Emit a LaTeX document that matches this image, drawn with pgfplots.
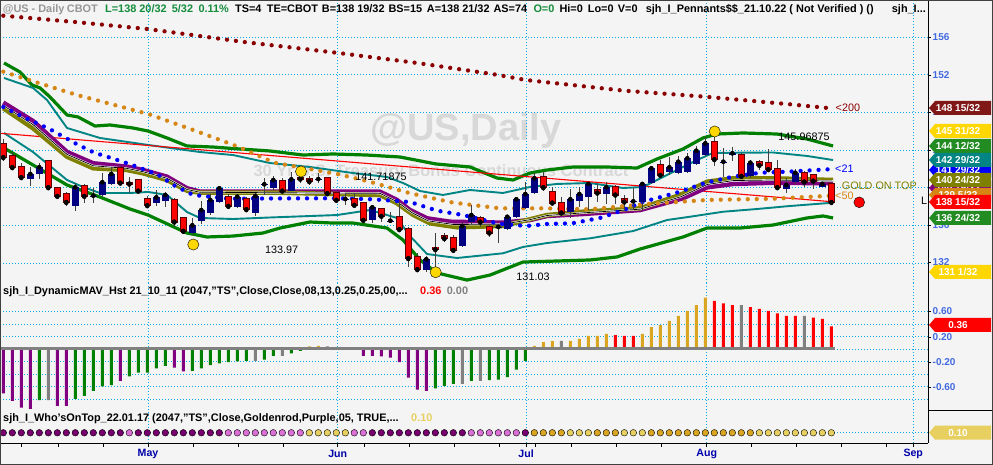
\documentclass[border=0pt]{standalone}
\usepackage{pgfplots}
\pgfplotsset{compat=1.18}
\usepackage{pgfplotstable}
\usepackage{fontspec}
\setmainfont{Liberation Sans}

\definecolor{bg}{RGB}{244,244,244}
\definecolor{gridc}{RGB}{0,170,235}
\definecolor{upc}{RGB}{0,0,128}
\definecolor{dnc}{RGB}{255,0,0}
\definecolor{dnedge}{RGB}{90,0,0}
\definecolor{ma200}{RGB}{139,0,0}
\definecolor{ma50}{RGB}{214,134,20}
\definecolor{ma21}{RGB}{0,0,255}
\definecolor{bandg}{RGB}{0,128,0}
\definecolor{bandt}{RGB}{0,132,132}
\definecolor{mavp}{RGB}{128,0,128}
\definecolor{mavo}{RGB}{128,128,0}
\definecolor{swing}{RGB}{255,215,0}
\definecolor{hgold}{RGB}{218,165,32}
\definecolor{hgray}{RGB}{128,128,128}
\definecolor{dotlt}{RGB}{232,208,96}
\definecolor{orchid}{RGB}{218,112,214}
\definecolor{dpurp}{RGB}{120,0,110}
\definecolor{axisblue}{RGB}{65,105,225}
\definecolor{monthc}{RGB}{0,0,170}
\definecolor{wm}{RGB}{216,216,216}
\definecolor{hdrgray}{RGB}{150,150,150}
\definecolor{hdrgreen}{RGB}{20,140,60}
\definecolor{tagred}{RGB}{128,24,24}
\definecolor{taggreen}{RGB}{34,139,34}

% candles: x = trading day index, O H L C
\pgfplotstableread{
x O H L C
3 140.96 142.23 140.21 141.46
4 141.43 142.66 140.89 142.17
8 138.09 140.53 137.53 140.04
10 139.10 139.94 138.35 139.16
11 139.20 141.59 139.05 140.58
12 140.40 142.23 140.29 141.46
17 138.35 139.76 138.06 138.98
18 138.62 139.58 137.92 139.23
21 135.16 136.75 134.98 136.01
22 136.50 138.62 136.15 137.63
23 137.35 139.33 137.10 138.70
24 138.52 140.11 138.41 139.94
26 137.99 139.12 137.81 139.05
28 137.35 139.47 137.00 139.12
29 140.30 141.00 139.20 140.36
30 139.94 141.24 139.76 140.82
32 139.68 141.67 139.60 140.89
35 140.87 141.53 140.47 140.92
38 138.74 139.33 138.17 138.80
41 136.57 138.17 136.29 137.92
43 136.44 137.45 136.22 136.50
47 131.26 132.75 131.08 132.40
51 133.81 136.39 133.67 135.93
52 136.39 138.17 136.15 137.10
55 135.79 136.04 134.16 135.84
56 135.59 137.10 135.51 136.92
57 136.86 139.05 136.75 138.77
58 137.81 140.64 137.71 139.33
59 139.41 141.53 139.33 141.00
63 137.45 139.83 136.75 138.77
64 138.62 140.04 137.99 139.33
65 138.98 140.64 137.63 140.40
67 139.33 140.64 138.27 140.04
70 138.50 139.94 137.63 138.55
71 138.52 140.64 137.63 140.40
72 140.53 142.31 140.40 142.06
74 141.70 143.29 141.35 142.17
75 141.59 143.37 141.46 142.76
76 141.70 143.65 141.53 143.12
77 142.52 144.43 142.41 143.93
78 143.47 145.35 143.37 144.71
80 142.59 144.19 141.17 142.76
81 143.47 144.29 142.87 143.65
83 141.24 142.94 141.00 142.66
87 139.83 141.00 139.47 140.29
88 140.64 141.96 140.40 141.59
91 140.11 140.64 140.04 140.40
}\candlesup

\pgfplotstableread{
x O H L C
0 144.64 145.14 142.87 143.23
1 143.37 143.83 141.88 142.17
2 142.17 142.59 140.89 141.11
5 142.80 142.84 139.94 140.04
6 139.97 140.11 138.98 139.12
7 139.33 139.58 138.06 138.48
9 140.18 140.40 138.41 139.12
13 142.06 142.31 140.47 140.53
14 140.50 141.17 139.47 140.43
15 140.82 140.89 139.58 139.68
16 138.83 139.12 137.92 138.13
19 138.70 138.88 135.80 136.39
20 136.75 136.86 135.09 135.41
25 139.05 139.33 137.85 138.06
27 138.77 138.98 137.56 137.71
31 140.71 141.03 139.55 139.68
33 141.03 141.35 140.47 140.95
34 140.89 141.24 140.29 140.68
36 141.00 141.10 139.33 139.41
37 139.41 139.58 138.52 138.70
39 138.77 139.41 137.99 138.17
40 138.35 138.52 136.39 136.57
42 137.71 137.81 136.39 137.00
44 136.92 138.52 135.44 135.59
45 135.59 135.80 131.55 132.51
46 132.68 133.04 131.19 131.34
48 133.67 135.16 131.62 133.46
49 134.91 135.16 134.27 134.63
50 134.63 134.98 133.31 133.39
53 136.75 136.99 135.80 136.39
54 135.80 136.04 134.74 135.23
60 141.17 141.70 139.68 140.04
61 139.58 140.11 138.17 138.41
62 138.41 138.98 137.21 137.35
66 139.76 140.40 138.52 139.47
68 140.04 140.29 138.27 139.26
69 138.77 139.23 137.63 138.52
73 142.41 142.94 141.00 141.35
79 144.88 145.97 142.31 143.02
82 143.47 143.72 141.17 141.24
84 142.76 142.94 141.88 142.41
85 142.66 144.08 141.70 141.96
86 141.96 142.94 139.94 140.04
89 141.53 141.81 140.04 140.64
90 141.35 141.35 139.83 140.74
92 140.40 140.40 138.38 138.47
}\candlesdn

\pgfplotsset{
  panel/.style={scale only axis, width=928pt, anchor=north west,
    xmin=-0.367, xmax=102.74,
    axis line style={draw=none}, major tick length=0pt, minor tick length=0pt,
    xtick={16.08,37.16,58.08,78.16,101.1}, xticklabels={}, yticklabels={},
    xmajorgrids, ymajorgrids,
    grid style={draw=gridc, dash pattern=on 1pt off 2pt, line width=0.8pt}},
  dotma/.style={line cap=round, dash pattern=on 0pt off 9pt, line width=4.3pt},
}
\newcommand{\hdr}{\fontsize{10.9}{12}\selectfont\bfseries}
\newcommand{\tagfont}{\fontsize{10}{12}\selectfont\bfseries}
\newcommand{\ptag}[4]{%
  \fill[#2] (929,465-#1) -- (935,465-#1+7) -- (991,465-#1+7) -- (991,465-#1-7) -- (935,465-#1-7) -- cycle;
  \node[text=#4, font=\tagfont, anchor=center, inner sep=0pt] at (958,465-#1) {#3};}

\begin{document}
\begin{tikzpicture}[x=1pt, y=1pt]
\fill[bg] (0,0) rectangle (993,465);
\useasboundingbox (0,0) rectangle (993,465);

% watermark
\node[text=wm, font=\fontsize{38}{40}\selectfont\bfseries] at (466,334) {@US,Daily};
\node[text=wm, font=\fontsize{16.5}{18}\selectfont\bfseries] at (441,293) {30 Yr U.S. Treasury Bonds Continuous Contract};

% ---------------- price panel
\begin{axis}[panel, at={(0pt,465pt)}, height=283pt,
  ymin=129.886, ymax=159.928, ytick={132,136,140,144,148,152,156}]
% 200 MA
\addplot[ma200, dotma] coordinates {(0,158.26) (8,157.59) (16,156.85) (27,155.44) (37,154.33) (46,153.24) (55,151.97) (58,151.44) (69,150.30) (78,149.66) (87,148.89) (92,148.43)};
% outer bands
\addplot[bandg, line width=3.2pt, line join=round] coordinates {(0.08,153.24) (1.86,152.28) (3.19,150.90) (4.08,150.59) (5.19,149.63) (7.08,147.72) (8.3,147.51) (10.19,146.55) (11.86,146.66) (14.41,146.34) (16.08,146.02) (18.19,145.28) (20.41,144.43) (23.3,144.32) (25.52,144.16) (29.63,143.90) (33.3,143.47) (36.63,143.58) (40.41,143.47) (44.08,143.26) (48.08,142.52) (51.85,142.20) (54.85,141.03) (56.63,140.82) (58.52,141.56) (60.41,141.88) (63.3,142.20) (67.08,142.20) (70.41,142.09) (72.63,143.05) (75.52,144.11) (77.74,145.28) (79.3,145.70) (82.19,145.81) (85.97,145.70) (89.3,145.17) (92.19,144.43)};
\addplot[bandg, line width=3.2pt, line join=round] coordinates {(0.08,144.22) (7.08,140.29) (10.74,139.01) (14.08,137.74) (16.08,137.10) (20.41,135.19) (22.63,134.77) (25.52,134.87) (28.85,135.19) (30.74,135.72) (34.08,136.36) (36.63,136.25) (38.85,136.25) (42.63,135.72) (44.41,134.45) (46.3,132.33) (48.19,130.95) (51.52,130.20) (54.08,130.73) (57.74,132.11) (61.52,132.22) (65.19,132.33) (68.19,132.65) (70.74,133.49) (75.52,134.77) (78.19,135.72) (81.85,135.72) (85.52,136.04) (89.3,136.79) (91.08,137.00) (92.19,136.79)};
% inner bands
\addplot[bandt, line width=1.9pt, line join=round] coordinates {(0.08,151.65) (3.3,150.59) (4.86,149.31) (7.08,146.34) (10.74,145.28) (16.08,144.54) (21.85,143.79) (25.52,143.47) (29.63,142.62) (34.08,142.20) (38.85,141.56) (42.63,141.14) (44.41,140.50) (46.3,139.65) (48.85,139.23) (51.85,139.76) (55.52,139.44) (58.52,140.08) (61.52,140.40) (65.19,140.50) (68.85,139.97) (71.08,140.08) (74.41,141.67) (77.08,142.94) (78.85,143.69) (81.85,143.72) (85.52,143.74) (89.3,143.37) (92.19,142.94)};
\addplot[bandt, line width=1.9pt, line join=round] coordinates {(0.08,145.81) (3.3,143.79) (7.08,140.82) (8.85,140.08) (10.74,139.44) (14.08,139.44) (16.08,139.55) (18.19,139.23) (20.41,137.42) (21.85,136.79) (25.52,136.68) (29.63,136.84) (37.08,137.10) (40.74,137.63) (43.74,136.79) (45.19,134.87) (47.08,132.96) (50.41,132.54) (55.52,133.04) (57.74,133.71) (60.41,134.13) (65.19,134.63) (69.97,135.40) (73.74,136.57) (76.3,136.92) (79.97,137.45) (83.74,137.74) (87.41,138.06) (92.19,138.41)};
% trend line
\addplot[dnc, line width=1.1pt] coordinates {(-0.37,145.78) (92,138.52)};
% dynamic MAVs
\addplot[mavp, line width=4.5pt, line join=round] coordinates {(0,149.03) (3.3,147.08) (7.08,143.79) (10.0,142.59) (13.74,142.23) (15.52,141.88) (18.19,141.17) (20.41,139.94) (21.85,139.58) (30.74,139.58) (41.85,139.58) (43.74,138.70) (45.19,137.63) (47.08,136.75) (49.63,136.39) (55.52,136.29) (58.52,136.57) (60.41,137.0) (64.41,137.21) (70.74,137.63) (75.52,138.88) (78.19,140.04) (81.11,140.40) (85.52,140.53) (92.19,140.47)};
\addplot[mavo, line width=4.5pt, line join=round] coordinates {(0,148.43) (3.3,146.31) (7.08,143.29) (10.0,142.06) (13.74,141.88) (15.52,141.53) (18.19,140.82) (20.41,139.68) (21.85,139.47) (30.74,139.47) (41.85,139.23) (43.74,138.35) (45.56,137.10) (47.41,136.22) (50.41,135.80) (55.52,135.94) (58.52,136.65) (60.41,137.10) (64.41,137.45) (70.74,137.81) (75.19,139.23) (78.19,140.64) (81.11,141.0) (85.52,141.0) (92.19,140.82)};
\addplot[white, line width=1.8pt, line join=round] coordinates {(0,148.73) (3.3,146.7) (7.08,143.54) (10,142.33) (13.74,142.05) (15.52,141.7) (18.19,141.0) (20.41,139.81) (21.85,139.52) (41.85,139.4) (43.74,138.52) (45.4,137.35) (47.2,136.48) (50,136.1) (55.52,136.12) (58.52,136.61) (60.41,137.05) (64.41,137.33) (70.74,137.72) (75.3,139.05) (78.19,140.34) (81.11,140.76) (85.52,140.82) (92.19,140.7)};
\addplot[black, line width=0.7pt, line join=round] coordinates {(0,148.73) (3.3,146.7) (7.08,143.54) (10,142.33) (13.74,142.05) (15.52,141.7) (18.19,141.0) (20.41,139.81) (21.85,139.52) (41.85,139.4) (43.74,138.52) (45.4,137.35) (47.2,136.48) (50,136.1) (55.52,136.12) (58.52,136.61) (60.41,137.05) (64.41,137.33) (70.74,137.72) (75.3,139.05) (78.19,140.34) (81.11,140.76) (85.52,140.82) (92.19,140.7)};
% 50 and 21 MA
\addplot[ma50, dotma] coordinates {(0,152.32) (3.2,151.33) (8.2,149.84) (16.1,147.83) (21.1,146.13) (26.1,144.35) (30.1,142.66) (37.1,141.46) (40.7,140.64) (45.2,139.41) (50,138.41) (55.2,137.81) (60.4,137.81) (65.2,137.71) (71.1,138.24) (78.2,138.70) (85.5,138.83) (92,139.15)};
\addplot[ma21, dotma] coordinates {(0,148.57) (2,147.61) (5.2,146.20) (8.2,144.61) (10.1,143.72) (12.1,143.12) (14.1,142.49) (17.1,141.42) (19.1,140.18) (21.1,139.23) (25.1,138.83) (30.1,138.86) (37.1,138.88) (41.1,138.77) (45.2,138.48) (48.2,137.56) (51.1,137.10) (55.2,136.15) (58.2,135.94) (60.4,136.15) (63.2,136.22) (66.3,136.79) (68.9,137.63) (71,138.48) (73.2,139.05) (75.2,139.58) (78.1,140.55) (81.1,141.17) (84.1,141.59) (87.1,141.70) (92,141.97)};
% candles: wicks
\addplot[only marks, mark=none, error bars/.cd, y dir=both, y explicit, error mark=none,
  error bar style={line width=1pt, color=black!75}]
  table[x=x, y=C, y error plus expr=\thisrow{H}-\thisrow{C}, y error minus expr=\thisrow{C}-\thisrow{L}] {\candlesup};
\addplot[only marks, mark=none, error bars/.cd, y dir=both, y explicit, error mark=none,
  error bar style={line width=1pt, color=black!75}]
  table[x=x, y=C, y error plus expr=\thisrow{H}-\thisrow{C}, y error minus expr=\thisrow{C}-\thisrow{L}] {\candlesdn};
% candles: bodies
\addplot[only marks, mark=none, error bars/.cd, y dir=minus, y explicit, error mark=none,
  error bar style={line width=6.5pt, line cap=butt, color=upc}]
  table[x=x, y=C, y error minus expr={max(\thisrow{C}-\thisrow{O},0.09)}] {\candlesup};
\addplot[only marks, mark=none, error bars/.cd, y dir=plus, y explicit, error mark=none,
  error bar style={line width=7.4pt, line cap=butt, color=dnedge}]
  table[x=x, y expr=\thisrow{C}-0.09, y error plus expr={\thisrow{O}-\thisrow{C}+0.18}] {\candlesdn};
\addplot[only marks, mark=none, error bars/.cd, y dir=plus, y explicit, error mark=none,
  error bar style={line width=5.4pt, line cap=butt, color=dnc}]
  table[x=x, y=C, y error plus expr={max(\thisrow{O}-\thisrow{C},0.02)}] {\candlesdn};
% swing points
\addplot[only marks, mark=*, mark size=5.6pt, mark options={fill=swing, draw=none}] coordinates {(21.11,133.97) (33.08,141.72) (48.04,131.03) (79.04,145.97)};
\addplot[only marks, mark=*, mark size=5.4pt, mark options={fill=dnc, draw=none}] coordinates {(95.1,138.45)};
\end{axis}

% ---------------- histogram panel
\begin{axis}[panel, at={(0pt,182pt)}, height=127pt,
  ymin=-0.976, ymax=1.056, ytick={-0.8,-0.6,-0.4,-0.2,0,0.2,0.4,0.6}]
\addplot[ybar, bar width=3pt, draw=none, fill=mavp] coordinates {(0,-0.71) (1,-0.83) (2,-0.94) (3,-0.96) (6,-0.91) (7,-0.91) (13,-0.51) (19,-0.30) (20,-0.36) (40,-0.11) (41,-0.11) (42,-0.12) (43,-0.14) (44,-0.21) (45,-0.46) (46,-0.65) (47,-0.67)};
\addplot[ybar, bar width=3pt, draw=none, fill=bandg] coordinates {(4,-0.82) (8,-0.80) (9,-0.75) (10,-0.67) (11,-0.60) (12,-0.58) (14,-0.44) (15,-0.38) (16,-0.38) (17,-0.31) (18,-0.27) (21,-0.35) (22,-0.31) (23,-0.26) (24,-0.23) (25,-0.21) (26,-0.20) (27,-0.19) (29,-0.17) (30,-0.11) (32,-0.07) (33,-0.03) (48,-0.63) (49,-0.59) (50,-0.56) (52,-0.51) (54,-0.50) (55,-0.49) (56,-0.45) (57,-0.33) (58,-0.19)};
\addplot[ybar, bar width=3pt, draw=none, fill=hgray] coordinates {(5,-0.82) (28,-0.19) (31,-0.11) (36,0.04) (51,-0.56) (53,-0.51) (62,0.13) (82,0.70) (89,0.53)};
\addplot[ybar, bar width=3pt, draw=none, fill=hgold] coordinates {(34,0.04) (35,0.05) (59,0.05) (60,0.11) (61,0.13) (63,0.13) (64,0.16) (65,0.21) (66,0.21) (67,0.24) (71,0.24) (72,0.35) (73,0.38) (74,0.45) (75,0.53) (76,0.61) (77,0.70) (78,0.82)};
\addplot[ybar, bar width=3pt, draw=none, fill=dnc] coordinates {(37,0.03) (38,0.03) (68,0.22) (69,0.21) (70,0.21) (79,0.77) (80,0.73) (81,0.70) (83,0.67) (84,0.64) (85,0.61) (86,0.57) (87,0.53) (88,0.53) (90,0.50) (91,0.48) (92,0.36)};
\addplot[hgray, line width=3pt] coordinates {(-0.37,0) (92.4,0)};
\end{axis}

% ---------------- who's on top panel
\begin{axis}[panel, at={(0pt,55pt)}, height=33pt, ymin=0, ymax=1, ytick={0.31},
  xticklabels={May,Jun,Jul,Aug,Sep},
  minor xtick={2.04,6.11,11.11,21.11,26.11,31.11,40.08,45.11,50.11,55.11,59.08,63.08,68.16,73.16,83.16,88.16,93.16,98.16},
  xtick pos=left, tick align=outside, xtick style={draw=black, line width=0.8pt},
  ytick style={draw=none},
  major tick length=4pt, minor tick length=4pt,
  xticklabel style={font=\fontsize{10.6}{12}\selectfont\bfseries, text=monthc, inner sep=0pt, anchor=center, yshift=-7pt}]
\addplot[only marks, mark=*, mark size=3.3pt, mark options={fill=dpurp, draw=none}] coordinates {(0,0.31) (1,0.31) (2,0.31) (3,0.31) (4,0.31) (5,0.31) (6,0.31) (7,0.31) (8,0.31) (9,0.31) (10,0.31) (11,0.31) (12,0.31) (13,0.31) (15,0.31) (16,0.31) (17,0.31) (18,0.31) (19,0.31) (20,0.31) (21,0.31) (22,0.31) (23,0.31) (24,0.31) (41,0.31) (42,0.31) (43,0.31) (44,0.31) (45,0.31) (46,0.31) (47,0.31) (48,0.31) (49,0.31) (50,0.31) (51,0.31) (58,0.31)};
\addplot[only marks, mark=*, mark size=3.3pt, mark options={fill=orchid, draw=none}] coordinates {(14,0.31) (25,0.31) (26,0.31) (27,0.31) (28,0.31) (29,0.31) (30,0.31) (31,0.31) (32,0.31) (33,0.31) (39,0.31) (40,0.31) (52,0.31) (53,0.31) (54,0.31) (55,0.31) (56,0.31) (57,0.31)};
\addplot[only marks, mark=*, mark size=3.3pt, mark options={fill=dotlt, draw=none}] coordinates {(34,0.31) (35,0.31) (36,0.31) (37,0.31) (38,0.31) (63,0.31) (64,0.31) (65,0.31) (69,0.31) (70,0.31) (71,0.31) (84,0.31) (85,0.31) (86,0.31) (87,0.31) (88,0.31) (89,0.31) (90,0.31) (91,0.31) (92,0.31)};
\addplot[only marks, mark=*, mark size=3.3pt, mark options={fill=hgold, draw=none}] coordinates {(59,0.31) (60,0.31) (61,0.31) (62,0.31) (66,0.31) (67,0.31) (68,0.31) (72,0.31) (73,0.31) (74,0.31) (75,0.31) (76,0.31) (77,0.31) (78,0.31) (79,0.31) (80,0.31) (81,0.31) (82,0.31) (83,0.31)};
\end{axis}

% frame lines
\draw[black, line width=0.9pt] (0,22) -- (928,22);
\draw[black, line width=0.9pt] (928,22) -- (928,465);
\draw[black, line width=0.9pt] (928,55) -- (993,55);

% header
\begin{scope}[every node/.style={anchor=base west, inner sep=0pt, font=\hdr}]
\node[text=hdrgray] at (2.7,452.5) {@US - Daily};
\node[text=hdrgray] at (66.7,452.5) {CBOT};
\node[text=hdrgreen] at (105,452.5) {L=138 20/32};
\node[text=hdrgreen] at (171.7,452.5) {5/32};
\node[text=hdrgreen] at (198.3,452.5) {0.11\%};
\node at (235,452.5) {TS=4};
\node at (266.7,452.5) {TE=CBOT};
\node at (321.7,452.5) {B=138 19/32};
\node at (388.3,452.5) {BS=15};
\node at (426.7,452.5) {A=138 21/32};
\node at (493.3,452.5) {AS=74};
\node[text=hdrgreen] at (533.3,452.5) {O=0};
\node at (559.3,452.5) {Hi=0};
\node at (587.7,452.5) {Lo=0};
\node at (617.7,452.5) {V=0};
\node at (645.7,452.5) {sjh\_I\_Pennants\$\$\_21.10.22 ( Not Verified ) ()};
\node at (891.7,452.5) {sjh\_I...};
\node at (3,170) {sjh\_I\_DynamicMAV\_Hst 21\_10\_11 (2047,"TS",Close,Close,08,13,0.25,0.25,00,...};
\node[text=dnc] at (420,170) {0.36};
\node[text=hgray] at (446.7,170) {0.00};
\node at (3,43.5) {sjh\_I\_Who'sOnTop\_22.01.17 (2047,"TS",Close,Goldenrod,Purple,05, TRUE,...};
\node[text=dotlt] at (411,43.5) {0.10};
\end{scope}

% value labels
\begin{scope}[every node/.style={inner sep=0pt, font=\fontsize{10.8}{12}\selectfont}]
\node at (281.7,215.7) {133.97};
\node at (381,288) {141.71875};
\node at (533,188) {131.03};
\node at (804,328.3) {145.96875};
\node[anchor=west, text=ma200] at (835.5,357) {<200};
\node[anchor=west, text=ma21] at (835,296) {<21};
\node[anchor=west, text=ma50] at (835,269) {<50};
\node[anchor=west, text=mavo] at (841.7,279) {GOLD ON TOP};
\node at (924,264) {L};
\end{scope}

% right scale
\begin{scope}[every node/.style={anchor=west, inner sep=0pt, text=axisblue, font=\fontsize{10}{12}\selectfont\bfseries}]
\foreach \v/\y in {156/428,152/390,148/353,144/315,140/278,136/240,132/203,0.60/154,0.20/128,-0.20/103,-0.60/78}{
  \draw[black, line width=0.8pt] (928,\y) -- (931,\y);
  \node at (932.5,\y) {\v};}
\end{scope}

% price tags
\ptag{170}{ma21}{141 29/32}{white}
\ptag{188}{mavp}{140 15/32}{white}
\ptag{195}{ma50}{139 5/32}{white}
\ptag{108}{tagred}{148 15/32}{white}
\ptag{131}{swing}{145 31/32}{white}
\ptag{146}{taggreen}{144 12/32}{white}
\ptag{160}{bandt}{142 29/32}{white}
\ptag{180}{mavo}{140 24/32}{white}
\ptag{202}{dnc}{138 15/32}{white}
\ptag{218}{taggreen}{136 24/32}{white}
\ptag{272}{swing}{131 1/32}{white}
\ptag{325}{dnc}{0.36}{white}
\ptag{432.7}{dotlt}{0.10}{white}

\draw[black!75, line width=1pt] (0.5,0.5) rectangle (992.5,464.5);
\end{tikzpicture}
\end{document}
